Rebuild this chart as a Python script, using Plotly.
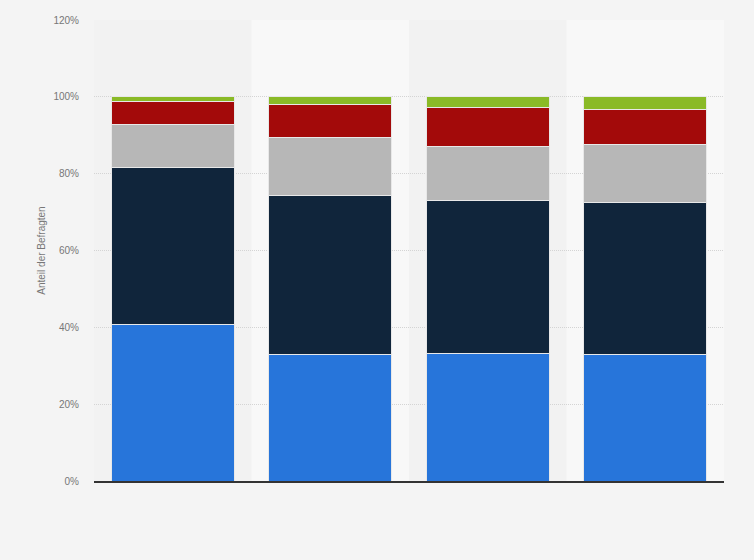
import plotly.graph_objects as go

categories = ["A", "B", "C", "D"]
series_names = ["Kategorie 1", "Kategorie 2", "Kategorie 3", "Kategorie 4", "Kategorie 5"]
blue_vals = [40.8, 32.8, 33.3, 32.8]
navy_vals = [40.7, 41.6, 39.6, 39.8]
grey_vals = [11.2, 15.1, 14.3, 14.9]
red_vals = [6.2, 8.4, 10.1, 9.3]
green_vals = [1.1, 2.1, 2.7, 3.2]
colors = ["#2775da", "#10253b", "#b7b7b7", "#a30a0a", "#8aba27"]
tick_vals = [0, 20, 40, 60, 80, 100, 120]
tick_text = ["0%", "20%", "40%", "60%", "80%", "100%", "120%"]

fig = go.Figure()
for name, vals, col in zip(series_names, [blue_vals, navy_vals, grey_vals, red_vals, green_vals], colors):
    fig.add_trace(go.Bar(x=categories, y=vals, name=name,
                         marker=dict(color=col, line=dict(color="#e8e8e8", width=1)),
                         width=0.78))

band_colors = ["#f2f2f2", "#f8f8f8", "#f2f2f2", "#f8f8f8"]
for i, c in enumerate(band_colors):
    fig.add_shape(type="rect", xref="x", yref="paper", x0=i - 0.5, x1=i + 0.5,
                  y0=0, y1=1, fillcolor=c, line=dict(width=0), layer="below")

fig.update_layout(
    barmode="stack",
    width=754, height=560,
    margin=dict(l=94, r=30, t=20, b=79),
    paper_bgcolor="#f4f4f4",
    plot_bgcolor="#f4f4f4",
    showlegend=False,
    font=dict(family="Arial, Liberation Sans, sans-serif", color="#666666"),
    xaxis=dict(showticklabels=False, showgrid=False, showline=True,
               linecolor="#333333", linewidth=1.5, range=[-0.5, 3.5], zeroline=False),
    yaxis=dict(range=[0, 120], tickvals=tick_vals, ticktext=tick_text,
               tickfont=dict(size=10, color="#777777"),
               showgrid=True, gridcolor="#d4d4d4", griddash="1px,1px", gridwidth=1,
               zeroline=False, ticklabelstandoff=14,
               title=dict(text="Anteil der Befragten", font=dict(size=10, color="#777777"), standoff=5)),
)

fig.write_html("out.html", config={"displayModeBar": False},
               post_script="document.body.style.margin='0';document.body.style.background='#f4f4f4';")
